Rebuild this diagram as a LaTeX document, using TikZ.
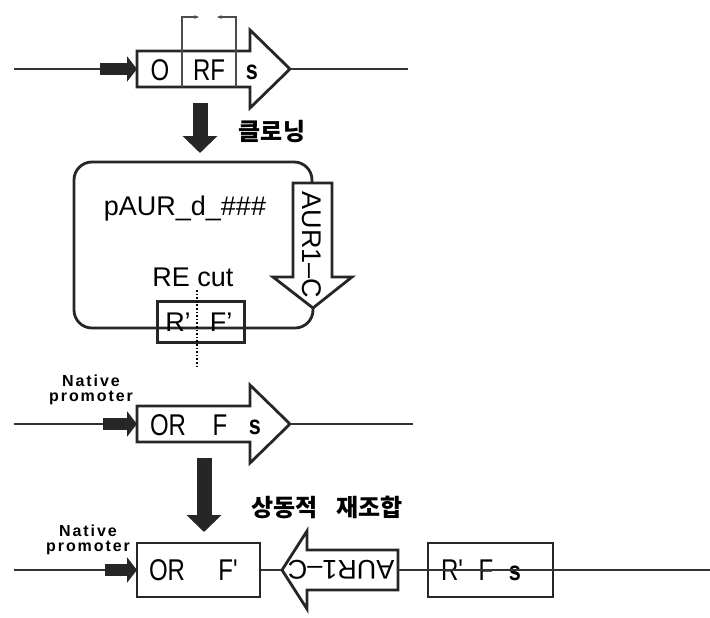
\documentclass[tikz,border=0pt]{standalone}
\usepackage{fontspec}
\setmainfont{Liberation Sans}
\newfontfamily\genefont[FakeStretch=0.8]{Liberation Sans}
\newfontfamily\promfont[LetterSpace=12]{Liberation Sans}
\newfontfamily\krfont{Noto Sans CJK KR}
\usetikzlibrary{arrows.meta,positioning}

\begin{document}
\begin{tikzpicture}[x=1pt, y=-1pt, >=Stealth,
  dna/.style={line width=2.8pt, black!80},
  part/.style={draw=black!85, line width=2.8pt, fill=white},
  plasmid/.style={draw=black!85, line width=2.8pt, rounded corners=18pt},
  prom/.style={line width=12pt, black!85, -{Triangle[length=10pt,width=25pt]}},
  bigarrow/.style={line width=15pt, black!85, -{Triangle[length=17pt,width=34pt]}},
  thinline/.style={line width=1.2pt, black!70},
  gene/.style={inner sep=0pt, font=\genefont\fontsize{30}{30}\selectfont},
  genes/.style={inner sep=0pt, font=\genefont\bfseries\fontsize{27}{27}\selectfont},
  vec/.style={inner sep=0pt, font=\fontsize{27}{27}\selectfont},
  promlabel/.style={align=center, inner sep=0pt,
                    font=\promfont\bfseries\fontsize{16}{15}\selectfont},
  krlabel/.style={inner sep=0pt, font=\krfont\bfseries\fontsize{24}{24}\selectfont}]
  \useasboundingbox (0,0) rectangle (710,618);

  % Row 1: ORF in the genome
  \coordinate (r1a) at (14,69);
  \coordinate (p1) at (100,69);
  \coordinate (g1s) at (137,69);
  \coordinate (g1e) at (290,69);
  \coordinate (r1b) at (408,69);
  \draw[dna] (r1a) -- (p1);
  \draw[prom] (p1) -- (g1s);
  \draw[part] (137,51) -- (250,51) -- (250,30) -- (290,69) -- (250,108)
    -- (250,87) -- (137,87) -- cycle;
  \draw[dna] (g1e) -- (r1b);
  \draw[thinline] (182,51) -- (182,87);
  \draw[thinline] (236,51) -- (236,87);
  \draw[thinline, -{Stealth[length=5pt]}] (182,51) -- (182,17) -- (199,17);
  \draw[thinline, -{Stealth[length=5pt]}] (236,51) -- (236,17) -- (217,17);
  \node[gene] (o1) at (160,70) {O};
  \node[gene] (rf1) at (209,70) {RF};
  \node[genes] (s1) at (252,72) {s};

  % Cloning step
  \coordinate (c1a) at (200,103);
  \coordinate (c1b) at (200,153);
  \draw[bigarrow] (c1a) -- (c1b);
  \node[krlabel] (clone) at (272,132) {클로닝};

  % Vector
  \draw[plasmid] (312,184) -- (312,162) -- (74,162) -- (74,328) -- (313,328)
    -- (313,308);
  \draw[part] (293,183) -- (332,183) -- (332,277) -- (352,277) -- (313,308)
    -- (273,277) -- (293,277) -- cycle;
  \node[vec, rotate=-90] (aur1) at (312,245) {AUR1--C};
  \node[vec] (pname) at (185,209) {pAUR\_d\_\#\#\#};
  \node[vec] (recut) at (193,277) {RE cut};
  \node[draw=black!85, line width=2.8pt, minimum width=87pt, minimum height=41pt]
    (rebox) at (201,322) {};
  \node[vec] (rp) at (178,322) {R'};
  \node[vec] (fp) at (221,322) {F'};
  \coordinate (cut1) at (197,290);
  \coordinate (cut2) at (197,367);
  \draw[dotted, line width=1.6pt] (cut1) -- (cut2);

  % Row 2: ORF with native promoter
  \node[promlabel] (np2) at (91,390) {Native\\promoter};
  \coordinate (r2a) at (14,424);
  \coordinate (p2) at (103,424);
  \coordinate (g2s) at (137,424);
  \coordinate (g2e) at (290,424);
  \coordinate (r2b) at (413,424);
  \draw[dna] (r2a) -- (p2);
  \draw[prom] (p2) -- (g2s);
  \draw[part] (137,406) -- (250,406) -- (250,385) -- (290,424) -- (250,463)
    -- (250,442) -- (137,442) -- cycle;
  \draw[dna] (g2e) -- (r2b);
  \node[gene] (or2) at (168,425) {OR};
  \node[gene] (f2) at (220,425) {F};
  \node[genes] (s2) at (255,427) {s};

  % Homologous recombination step
  \coordinate (c2a) at (204,458);
  \coordinate (c2b) at (204,532);
  \draw[bigarrow] (c2a) -- (c2b);
  \node[krlabel] (homrec) at (327,507) {상동적\hspace{18pt}재조합};

  % Row 3: integrated construct
  \node[promlabel] (np3) at (88,540) {Native\\promoter};
  \coordinate (r3a) at (14,570);
  \coordinate (p3) at (105,570);
  \coordinate (g3s) at (137,570);
  \coordinate (tip3) at (282,570);
  \coordinate (aur3e) at (398,570);
  \coordinate (r3b) at (710,570);
  \draw[dna] (r3a) -- (p3);
  \draw[prom] (p3) -- (g3s);
  \node[part, minimum width=123pt, minimum height=54pt] (orf3) at (198.5,570) {};
  \draw[dna] (orf3.east) -- (tip3);
  \draw[part] (398,550) -- (307,550) -- (307,531) -- (282,570) -- (307,609)
    -- (307,590) -- (398,590) -- cycle;
  \node[vec, rotate=180] (aur3) at (341,570) {AUR1--C};
  \node[draw=black!85, line width=2.8pt, minimum width=125pt, minimum height=54pt]
    (rfs3) at (490.5,570) {};
  \node[gene] (or3) at (167,570) {OR};
  \node[gene] (f3) at (228,570) {F'};
  \node[gene] (rp3) at (452,570) {R'};
  \node[gene] (fs3) at (486,570) {F};
  \node[genes] (s3) at (515,573) {s};
  \draw[dna] (aur3e) -- (r3b);
\end{tikzpicture}
\end{document}
